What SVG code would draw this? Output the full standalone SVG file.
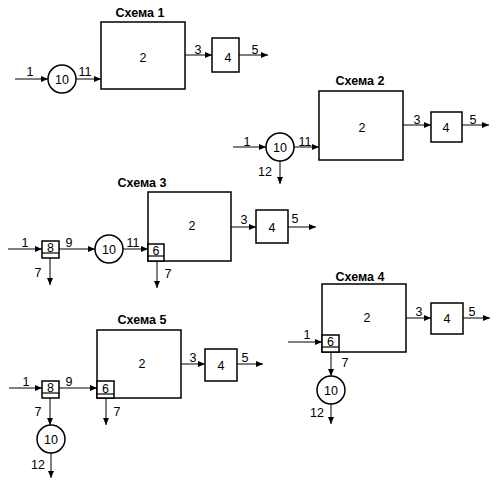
<svg xmlns="http://www.w3.org/2000/svg" width="498" height="486" viewBox="0 0 498 486">
<style>
.b{fill:#fff;stroke:#000;stroke-width:1.5}
.d{fill:none;stroke:#000;stroke-width:1.2}
.c{fill:none;stroke:#000;stroke-width:1;marker-end:url(#ah)}
text{font-family:"Liberation Sans",Arial,sans-serif;font-size:12.5px;text-anchor:middle;fill:#000}
.t{font-weight:bold;font-size:12.5px}
</style>
<defs>
<marker id="ah" markerUnits="userSpaceOnUse" markerWidth="7" markerHeight="6" refX="7" refY="3" orient="auto">
<path d="M0,0 L7,3 L0,6 z" fill="#000"/>
</marker>
</defs>
<rect width="498" height="486" fill="#fff"/>

<!-- Схема 1 -->
<g id="s1-title"><text class="t" x="140" y="17">Схема 1</text></g>
<g id="s1-n2"><rect class="b" x="101" y="22" width="84" height="67"/><text x="143" y="61.5">2</text></g>
<g id="s1-n4"><rect class="b" x="212" y="38" width="27" height="34"/><text x="228" y="61.5">4</text></g>
<g id="s1-n10"><circle class="b" cx="62" cy="79" r="14"/><text x="62" y="83.5">10</text></g>

<!-- Схема 2 -->
<g id="s2-title"><text class="t" x="360" y="85">Схема 2</text></g>
<g id="s2-n2"><rect class="b" x="319" y="91" width="84" height="69"/><text x="362" y="131.5">2</text></g>
<g id="s2-n4"><rect class="b" x="431" y="112" width="31" height="30"/><text x="446" y="131.5">4</text></g>
<g id="s2-n10"><circle class="b" cx="280" cy="147" r="14"/><text x="280" y="151.5">10</text></g>

<!-- Схема 3 -->
<g id="s3-title"><text class="t" x="142" y="187">Схема 3</text></g>
<g id="s3-n2"><rect class="b" x="148" y="192" width="83" height="69"/><text x="192" y="229.5">2</text></g>
<g id="s3-n4"><rect class="b" x="256" y="210" width="32" height="33"/><text x="272" y="231.5">4</text></g>
<g id="s3-n8"><rect class="b" x="42" y="241" width="17" height="17"/><line class="d" x1="42" y1="253" x2="59" y2="253"/><text x="50.5" y="252">8</text></g>
<g id="s3-n10"><circle class="b" cx="109" cy="249" r="14"/><text x="109" y="253.5">10</text></g>
<g id="s3-n6"><rect class="b" x="148" y="244" width="16" height="17"/><line class="d" x1="148" y1="256" x2="164" y2="256"/><text x="156" y="254.5">6</text></g>

<!-- Схема 4 -->
<g id="s4-title"><text class="t" x="360" y="281">Схема 4</text></g>
<g id="s4-n2"><rect class="b" x="322" y="284" width="84" height="68"/><text x="367" y="321.5">2</text></g>
<g id="s4-n4"><rect class="b" x="431" y="303" width="32" height="31"/><text x="447" y="322.5">4</text></g>
<g id="s4-n6"><rect class="b" x="322" y="335" width="17" height="17"/><line class="d" x1="322" y1="347" x2="339" y2="347"/><text x="330.5" y="346">6</text></g>
<g id="s4-n10"><circle class="b" cx="331" cy="390" r="14"/><text x="331" y="394.5">10</text></g>

<!-- Схема 5 -->
<g id="s5-title"><text class="t" x="142" y="324">Схема 5</text></g>
<g id="s5-n2"><rect class="b" x="97" y="330" width="84" height="68"/><text x="142" y="367.5">2</text></g>
<g id="s5-n4"><rect class="b" x="205" y="349" width="32" height="32"/><text x="221" y="369.5">4</text></g>
<g id="s5-n8"><rect class="b" x="42" y="381" width="17" height="17"/><line class="d" x1="42" y1="393" x2="59" y2="393"/><text x="50.5" y="392">8</text></g>
<g id="s5-n6"><rect class="b" x="97" y="381" width="17" height="17"/><line class="d" x1="97" y1="394" x2="114" y2="394"/><text x="105.5" y="392.5">6</text></g>
<g id="s5-n10"><circle class="b" cx="51" cy="439" r="14"/><text x="51" y="443.5">10</text></g>

<g id="connectors">
<!-- s1 -->
<line class="c" x1="15" y1="79" x2="48" y2="79"/>
<line class="c" x1="76" y1="79" x2="101" y2="79"/>
<line class="c" x1="185" y1="55" x2="212" y2="55"/>
<line class="c" x1="239" y1="55" x2="268" y2="55"/>
<!-- s2 -->
<line class="c" x1="233" y1="147" x2="266" y2="147"/>
<line class="c" x1="294" y1="147" x2="319" y2="147"/>
<line class="c" x1="280" y1="161" x2="280" y2="184"/>
<line class="c" x1="403" y1="125" x2="431" y2="125"/>
<line class="c" x1="462" y1="125" x2="489" y2="125"/>
<!-- s3 -->
<line class="c" x1="8" y1="249" x2="42" y2="249"/>
<line class="c" x1="59" y1="249" x2="95" y2="249"/>
<line class="c" x1="123" y1="249" x2="148" y2="249"/>
<line class="c" x1="50" y1="258" x2="50" y2="285"/>
<line class="c" x1="157" y1="261" x2="157" y2="288"/>
<line class="c" x1="231" y1="227" x2="256" y2="227"/>
<line class="c" x1="288" y1="227" x2="316" y2="227"/>
<!-- s4 -->
<line class="c" x1="288" y1="342" x2="322" y2="342"/>
<line class="c" x1="331" y1="352" x2="331" y2="376"/>
<line class="c" x1="331" y1="404" x2="331" y2="424"/>
<line class="c" x1="406" y1="318" x2="431" y2="318"/>
<line class="c" x1="463" y1="318" x2="490" y2="318"/>
<!-- s5 -->
<line class="c" x1="9" y1="388" x2="42" y2="388"/>
<line class="c" x1="59" y1="388" x2="97" y2="388"/>
<line class="c" x1="50" y1="398" x2="50" y2="425"/>
<line class="c" x1="51" y1="453" x2="51" y2="478"/>
<line class="c" x1="106" y1="398" x2="106" y2="425"/>
<line class="c" x1="181" y1="364" x2="205" y2="364"/>
<line class="c" x1="237" y1="364" x2="263" y2="364"/>
</g>

<g id="labels">
<text x="30" y="76">1</text>
<text x="85" y="76">11</text>
<text x="198" y="54">3</text>
<text x="255" y="54">5</text>

<text x="247" y="146">1</text>
<text x="305" y="146">11</text>
<text x="265" y="176">12</text>
<text x="417" y="124">3</text>
<text x="473" y="124">5</text>

<text x="25" y="247">1</text>
<text x="69" y="247">9</text>
<text x="133" y="247">11</text>
<text x="38" y="277">7</text>
<text x="168" y="278">7</text>
<text x="244" y="224">3</text>
<text x="295" y="223">5</text>

<text x="307" y="339">1</text>
<text x="345" y="367">7</text>
<text x="317" y="417">12</text>
<text x="419" y="316">3</text>
<text x="472" y="316">5</text>

<text x="26" y="386">1</text>
<text x="69" y="386">9</text>
<text x="38" y="416">7</text>
<text x="117" y="416">7</text>
<text x="38" y="469">12</text>
<text x="193" y="362">3</text>
<text x="245" y="362">5</text>
</g>
</svg>
